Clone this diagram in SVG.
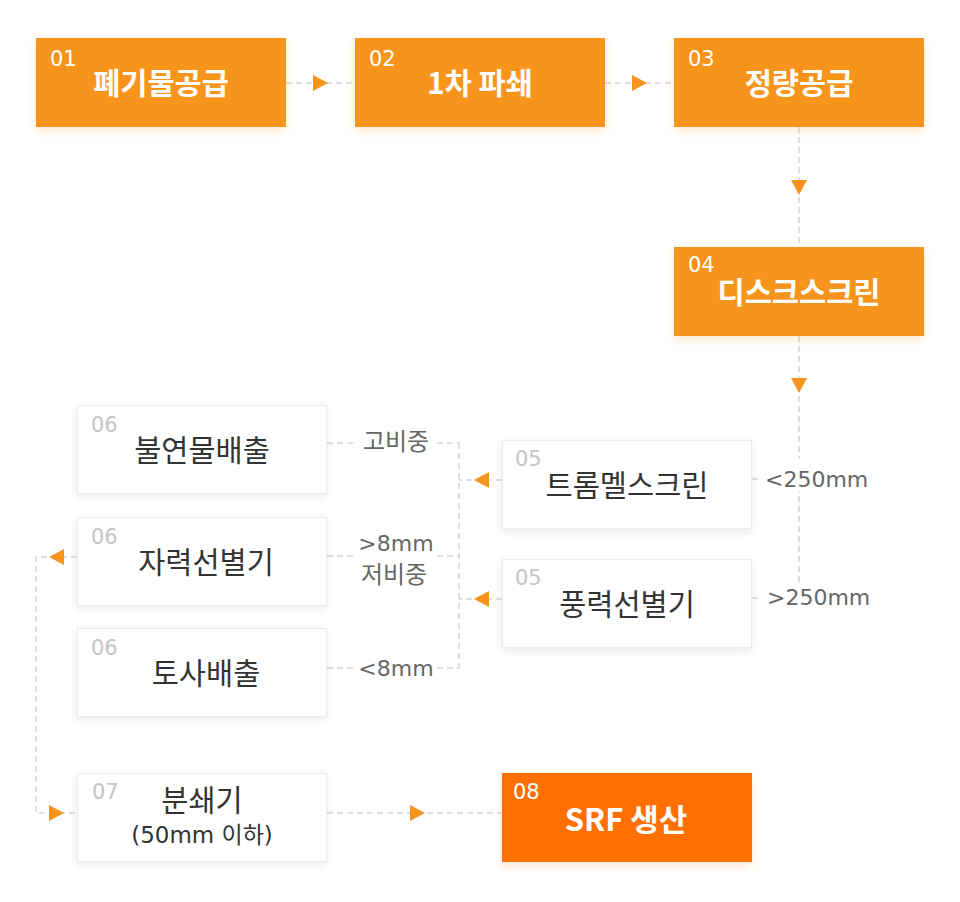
<svg xmlns="http://www.w3.org/2000/svg" width="960" height="902" viewBox="0 0 960 902">
<defs>
<filter id="sw" x="-10%" y="-20%" width="120%" height="150%">
<feDropShadow dx="0" dy="3" stdDeviation="4" flood-color="#000" flood-opacity="0.08"/>
</filter>
<filter id="so" x="-10%" y="-20%" width="120%" height="150%">
<feDropShadow dx="0" dy="4" stdDeviation="5" flood-color="#f7941d" flood-opacity="0.22"/>
</filter>
<style>
.ob{fill:#f7941d;filter:url(#so)}
.rb{fill:#ff6f00;filter:url(#so)}
.wb{fill:#fff;stroke:#ececec;stroke-width:1;filter:url(#sw)}
.num{font-family:"DejaVu Sans",sans-serif;font-size:21px}
.nw{fill:#fff}
.ng{fill:#c4c4c4}
.tt{font-family:"Noto Sans CJK KR",sans-serif;font-size:29.5px;text-anchor:middle}
.tb{font-weight:bold;fill:#fff}
.td{fill:#333}
.lbl{font-family:"DejaVu Sans","Noto Sans CJK KR",sans-serif;font-size:22px;fill:#666}
.kl{font-family:"Noto Sans CJK KR",sans-serif;font-size:24px;fill:#666}
.ln{fill:none;stroke:#bdbdbd;stroke-width:1;stroke-dasharray:6 4}
.ar{fill:#f7941d}
.bg{fill:#fff}
</style>
</defs>
<rect width="960" height="902" fill="#fff"/>

<g id="connectors">
<path class="ln" d="M286 83H355"/>
<path class="ln" d="M605 83H674"/>
<path class="ln" d="M799 127V247"/>
<path class="ln" d="M799 336V582"/>
<path class="ln" d="M752 479H765"/>
<path class="ln" d="M752 598H765"/>
<path class="ln" d="M502 480H459"/>
<path class="ln" d="M502 599H459"/>
<path class="ln" d="M459 443V668"/>
<path class="ln" d="M327 443H459"/>
<path class="ln" d="M327 556H459"/>
<path class="ln" d="M327 668H459"/>
<path class="ln" d="M77 557H36V813H77"/>
<path class="ln" d="M327 813H502"/>
<polygon class="ar" points="313,75 328,83 313,91"/>
<polygon class="ar" points="632,75 647,83 632,91"/>
<polygon class="ar" points="791,180 807,180 799,195"/>
<polygon class="ar" points="791,378 807,378 799,393"/>
<polygon class="ar" points="489,472 474,480 489,488"/>
<polygon class="ar" points="489,591 474,599 489,607"/>
<polygon class="ar" points="64,549 49,557 64,565"/>
<polygon class="ar" points="49,805 64,813 49,821"/>
<polygon class="ar" points="410,805 425,813 410,821"/>
<rect class="bg" x="762" y="459" width="110" height="32"/>
<rect class="bg" x="762" y="585" width="110" height="26"/>
<text class="lbl" x="765" y="487">&lt;250mm</text>
<text class="lbl" x="767" y="605">&gt;250mm</text>
<rect class="bg" x="357" y="428" width="79" height="28"/>
<text class="kl" x="396" y="450" text-anchor="middle">고비중</text>
<rect class="bg" x="355" y="532" width="82" height="55"/>
<text class="lbl" x="396" y="551" text-anchor="middle">&gt;8mm</text>
<text class="kl" x="394" y="583" text-anchor="middle">저비중</text>
<rect class="bg" x="355" y="656" width="82" height="24"/>
<text class="lbl" x="396" y="676" text-anchor="middle">&lt;8mm</text>
</g>

<g id="n01">
<rect class="ob" x="36" y="38" width="250" height="89"/>
<text class="num nw" x="50" y="66">01</text>
<text class="tt tb" x="161" y="94">폐기물공급</text>
</g>
<g id="n02">
<rect class="ob" x="355" y="38" width="250" height="89"/>
<text class="num nw" x="369" y="66">02</text>
<text class="tt tb" x="480" y="94">1차 파쇄</text>
</g>
<g id="n03">
<rect class="ob" x="674" y="38" width="250" height="89"/>
<text class="num nw" x="688" y="66">03</text>
<text class="tt tb" x="799" y="94">정량공급</text>
</g>
<g id="n04">
<rect class="ob" x="674" y="247" width="250" height="89"/>
<text class="num nw" x="688" y="272">04</text>
<text class="tt tb" x="799" y="303">디스크스크린</text>
</g>
<g id="n05a">
<rect class="wb" x="502.5" y="440.5" width="249" height="88"/>
<text class="num ng" x="515" y="466">05</text>
<text class="tt td" x="627" y="496">트롬멜스크린</text>
</g>
<g id="n05b">
<rect class="wb" x="502.5" y="559.5" width="249" height="88"/>
<text class="num ng" x="515" y="585">05</text>
<text class="tt td" x="627" y="615">풍력선별기</text>
</g>
<g id="n06a">
<rect class="wb" x="77.5" y="405.5" width="249" height="88"/>
<text class="num ng" x="91" y="432">06</text>
<text class="tt td" x="202" y="461">불연물배출</text>
</g>
<g id="n06b">
<rect class="wb" x="77.5" y="517.5" width="249" height="88"/>
<text class="num ng" x="91" y="544">06</text>
<text class="tt td" x="206" y="573">자력선별기</text>
</g>
<g id="n06c">
<rect class="wb" x="77.5" y="628.5" width="249" height="88"/>
<text class="num ng" x="91" y="655">06</text>
<text class="tt td" x="206" y="684">토사배출</text>
</g>
<g id="n07">
<rect class="wb" x="77.5" y="773.5" width="249" height="88"/>
<text class="num ng" x="92" y="799">07</text>
<text class="tt td" x="202" y="811">분쇄기</text>
<text class="lbl" x="202" y="843" text-anchor="middle" style="fill:#333;font-size:23px">(50mm 이하)</text>
</g>
<g id="n08">
<rect class="rb" x="502" y="773" width="250" height="89"/>
<text class="num nw" x="513" y="799">08</text>
<text class="tt tb" x="626" y="831" style="font-size:31px">SRF 생산</text>
</g>
</svg>
